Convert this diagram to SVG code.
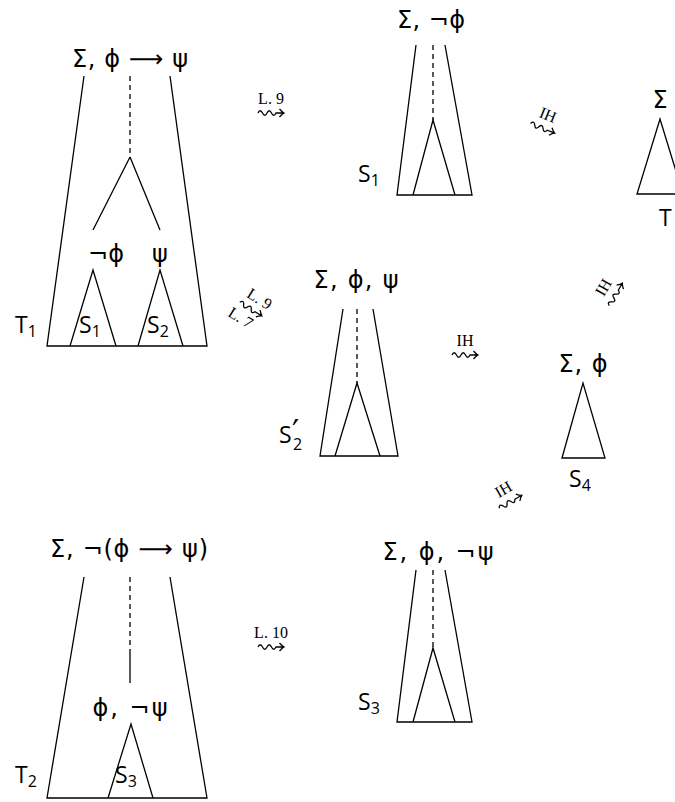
<svg xmlns="http://www.w3.org/2000/svg" width="675" height="802" viewBox="0 0 675 802">
<style>
.ln{stroke:#000;stroke-width:1.3;fill:none}
.ds{stroke:#000;stroke-width:1.3;fill:none;stroke-dasharray:5,4}
.g{font-family:"DejaVu Sans","Noto Sans",sans-serif;font-size:24px;fill:#000;text-anchor:middle}
.s{font-family:"Open Sans","Noto Sans",sans-serif;font-size:23px;fill:#000}
.sub{font-size:16px}
.lb{font-family:"Liberation Serif","DejaVu Serif",serif;font-size:16px;fill:#000;text-anchor:middle}
</style>
<defs>
<g id="sq"><path class="ln" d="M-13,0 c1.5,-3 3,-3 4.5,0 s3,3 4.5,0 s3,-3 4.5,0 s3,3 4.5,0 l8,0 M8.5,-4 Q11,-1 13,0 Q11,1 8.5,4" stroke-width="1.1"/></g>
</defs>
<g id="T1">
<text class="g" x="130" y="67" textLength="116" lengthAdjust="spacing">Σ, ϕ ⟶ ψ</text>
<path class="ln" d="M84,76 L47,346 L207,346 L170,76"/>
<path class="ds" d="M130,76 L130,157"/>
<path class="ln" d="M130,157 L93,230 M130,157 L160,230"/>
<text class="g" x="106" y="262">¬ϕ</text>
<text class="g" x="160" y="262">ψ</text>
<path class="ln" d="M70,346 L93,270 L116,346 M138,346 L160,270 L183,346"/>
<text class="s" x="15" y="333">T<tspan class="sub" dy="4">1</tspan></text>
<text class="s" x="79" y="333">S<tspan class="sub" dy="4">1</tspan></text>
<text class="s" x="147" y="333">S<tspan class="sub" dy="4">2</tspan></text>
</g>
<g id="S1top">
<text class="g" x="431" y="28" textLength="68" lengthAdjust="spacing">Σ, ¬ϕ</text>
<path class="ln" d="M416,45 L397,195 L472,195 L445,45"/>
<path class="ds" d="M433,45 L433,120"/>
<path class="ln" d="M413,195 L433,120 L455,195"/>
<text class="s" x="358" y="182">S<tspan class="sub" dy="4">1</tspan></text>
</g>
<g id="Ttop">
<text class="g" x="660" y="108">Σ</text>
<path class="ln" d="M683,194 L660,119 L637,194 L683,194"/>
<text class="s" x="659" y="226">T</text>
</g>
<g id="S2p">
<text class="g" x="356" y="288" textLength="85" lengthAdjust="spacing">Σ, ϕ, ψ</text>
<path class="ln" d="M343,309 L320,456 L398,456 L373,309"/>
<path class="ds" d="M357,309 L357,383"/>
<path class="ln" d="M335,456 L357,383 L380,456"/>
<text class="s" x="279" y="443">S<tspan x="292" y="442" font-family="DejaVu Sans" font-size="32">′</tspan><tspan class="sub" x="293" y="450">2</tspan></text>
</g>
<g id="S4">
<text class="g" x="583" y="372" textLength="49" lengthAdjust="spacing">Σ, ϕ</text>
<path class="ln" d="M562,458 L583,383 L605,458 Z"/>
<text class="s" x="569" y="487">S<tspan class="sub" dy="4">4</tspan></text>
</g>
<g id="S3top">
<text class="g" x="438" y="560" textLength="111" lengthAdjust="spacing">Σ, ϕ, ¬ψ</text>
<path class="ln" d="M416,570 L397,722 L472,722 L445,570"/>
<path class="ds" d="M433,570 L433,648"/>
<path class="ln" d="M413,722 L433,648 L455,722"/>
<text class="s" x="358" y="710">S<tspan class="sub" dy="4">3</tspan></text>
</g>
<g id="T2">
<text class="g" x="129" y="557" textLength="158" lengthAdjust="spacing">Σ, ¬(ϕ ⟶ ψ)</text>
<path class="ln" d="M84,577 L47,798 L207,798 L170,577"/>
<path class="ds" d="M130,577 L130,650"/>
<path class="ln" d="M130,650 L130,683"/>
<text class="g" x="130" y="716" textLength="75" lengthAdjust="spacing">ϕ, ¬ψ</text>
<path class="ln" d="M108,798 L131,724 L153,798"/>
<text class="s" x="15" y="783">T<tspan class="sub" dy="4">2</tspan></text>
<text class="s" x="115" y="783">S<tspan class="sub" dy="4">3</tspan></text>
</g>
<g id="connectors">
<g transform="translate(271,104)"><text class="lb" x="0" y="0">L. 9</text><use href="#sq" y="9"/></g>
<g transform="translate(271,638)"><text class="lb" x="0" y="0">L. 10</text><use href="#sq" y="9"/></g>
<g transform="translate(465,346)"><text class="lb" x="0" y="0">IH</text><use href="#sq" y="9"/></g>
<g transform="translate(546,120) rotate(22)"><text class="lb" x="0" y="0">IH</text><use href="#sq" y="9"/></g>
<g transform="translate(608,290) rotate(-60)"><text class="lb" x="0" y="0">IH</text><use href="#sq" y="9"/></g>
<g transform="translate(506,494) rotate(-30)"><text class="lb" x="0" y="0">IH</text><use href="#sq" y="9"/></g>
<g transform="translate(254,304) rotate(32)"><text class="lb" x="2" y="-2">L. 9</text><use href="#sq" y="6"/><text class="lb" x="-4" y="24">L. 7</text></g>
</g>
</svg>
